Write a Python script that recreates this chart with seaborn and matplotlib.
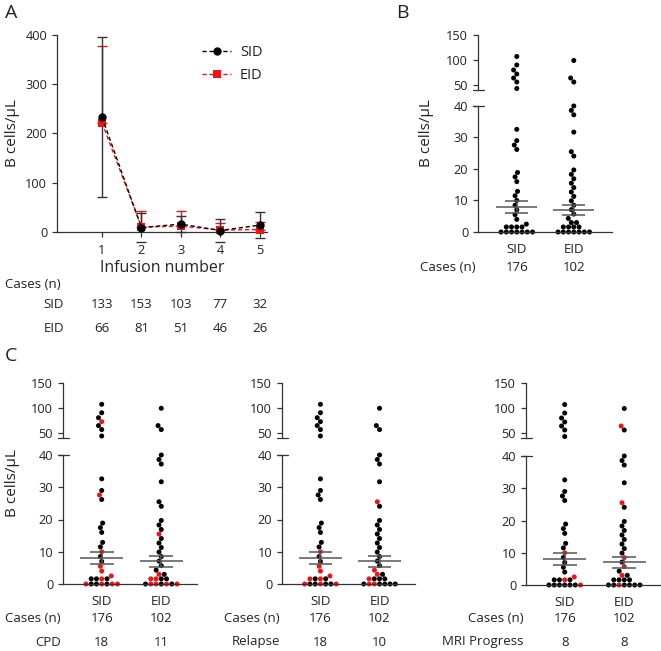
import warnings
warnings.filterwarnings("ignore")
import numpy as np
import pandas as pd
import matplotlib
matplotlib.use("Agg")
import matplotlib.pyplot as plt
import matplotlib.transforms as mtransforms
from matplotlib.lines import Line2D
import seaborn as sns

# ---------------- Panel A data ----------------
infusion = [1, 2, 3, 4, 5]
sid_mean = [233, 9, 16, 3, 14]
sid_sd = [162, 30, 17, 23, 27]
eid_mean = [222, 10, 12, 4, 5]
eid_sd = [156, 33, 31, 15, 15]
sid_cases_a = [133, 153, 103, 77, 32]
eid_cases_a = [66, 81, 51, 46, 26]

# ---------------- Panel B / C data ----------------
groups = ["SID", "EID"]
sid_values = [107, 90, 80, 72, 64, 56, 43,
              32.6, 29.0, 27.6, 26.2, 18.9, 17.5, 16.0, 12.9, 11.5, 10.0,
              8.5, 7.0, 5.5, 4.0, 2.5,
              1.6, 1.6, 1.6, 1.6,
              0, 0, 0, 0, 0, 0, 0]
eid_values = [99, 64, 56,
              40.0, 38.6, 37.2, 31.7, 25.5, 24.1, 19.7, 18.3, 16.9, 15.5, 14.1,
              12.7, 11.3, 9.9, 8.5, 7.1, 5.7, 4.3, 3.0, 3.0,
              1.6, 1.6, 1.6, 1.6,
              0, 0, 0, 0, 0, 0, 0]
group_cases = [176, 102]
group_mean = [8.0, 7.0]
group_sem = [1.85, 1.6]

cpd_counts = [18, 11]
relapse_counts = [18, 10]
mri_counts = [8, 8]

cpd_red_sid = [72, 27.6, 10.0, 5.5, 4.0, 2.5, 1.6, 0, 0, 0, 0]
cpd_red_eid = [15.5, 3.0, 1.6, 1.6, 0, 0, 0, 0]
relapse_red_sid = [10.0, 5.5, 4.0, 2.5, 1.6, 1.6, 0, 0, 0]
relapse_red_eid = [25.5, 4.3, 3.0, 1.6, 0, 0]
mri_red_sid = [10.0, 2.5, 1.6, 0]
mri_red_eid = [64, 25.5, 8.5, 5.7, 3.0, 0]

RED = "#f01414"
DARK = "#333333"
TXT = "#222222"
W, H = 661, 651

sns.set_style("ticks")
plt.rcParams["font.family"] = ["Open Sans", "DejaVu Sans"]
plt.rcParams["text.color"] = TXT
plt.rcParams["axes.edgecolor"] = DARK
plt.rcParams["xtick.color"] = DARK
plt.rcParams["ytick.color"] = DARK
plt.rcParams["xtick.labelcolor"] = TXT
plt.rcParams["ytick.labelcolor"] = TXT

TICK = 9.2
LAB = 11
ROW = 9.5

fig = plt.figure(figsize=(W / 100, H / 100), dpi=100)


def fpos(l, t, r, b):
    return [l / W, 1 - b / H, (r - l) / W, (b - t) / H]


def fy(py):
    return 1 - py / H


def style_axis(ax):
    ax.tick_params(axis="both", length=3.6, width=0.9, labelsize=TICK)
    for s in ax.spines.values():
        s.set_linewidth(0.9)


# ---------------- Panel A ----------------
axA = fig.add_axes(fpos(57, 35, 267, 232))
dfA = pd.DataFrame({
    "Infusion": infusion * 2,
    "cells": sid_mean + eid_mean,
    "series": ["SID"] * 5 + ["EID"] * 5,
})
axA.errorbar(infusion, eid_mean, yerr=[[0] * len(eid_sd), eid_sd], fmt="none",
             ecolor=RED, elinewidth=1.0, capsize=3.6, capthick=1.0, zorder=2)
axA.errorbar(infusion, sid_mean, yerr=sid_sd, fmt="none", ecolor=DARK,
             elinewidth=1.0, capsize=3.6, capthick=1.0, zorder=2)
sns.lineplot(data=dfA, x="Infusion", y="cells", hue="series", style="series",
             hue_order=["EID", "SID"], style_order=["EID", "SID"],
             palette={"SID": "black", "EID": RED},
             markers={"SID": "o", "EID": "s"},
             dashes={"SID": (3, 2), "EID": (3, 2)},
             markersize=6, markeredgewidth=0, linewidth=1.0,
             legend=False, ax=axA, zorder=3)
for ln in axA.lines:
    ln.set_clip_on(False)
axA.set_xlim(-0.14, 5.18)
axA.set_ylim(0, 400)
axA.set_xticks(infusion)
axA.set_yticks([0, 100, 200, 300, 400])
sns.despine(ax=axA)
style_axis(axA)
axA.tick_params(axis="x", pad=5)
axA.set_xlabel("Infusion number", fontsize=11.5, labelpad=2)
axA.set_ylabel("")
h_sid = Line2D([], [], color="black", ls=(0, (3, 2)), lw=1.0, marker="o",
               markersize=6, markeredgewidth=0)
h_eid = Line2D([], [], color=RED, ls=(0, (3, 2)), lw=1.0, marker="s",
               markersize=6, markeredgewidth=0)
axA.legend([h_sid, h_eid], ["SID", "EID"], loc="upper left",
           bbox_to_anchor=(189 / W, fy(32)), bbox_transform=fig.transFigure,
           frameon=False, fontsize=10.5, handlelength=2.0, handletextpad=0.6,
           labelspacing=0.55)
fig.text(12 / W, fy(133), "B cells/µL", rotation=90, ha="center", va="center",
         fontsize=LAB)

trA = mtransforms.blended_transform_factory(axA.transData, fig.transFigure)
fig.text(5 / W, fy(285), "Cases (n)", ha="left", va="center", fontsize=ROW)
fig.text(64 / W, fy(305), "SID", ha="right", va="center", fontsize=ROW)
fig.text(64 / W, fy(328), "EID", ha="right", va="center", fontsize=ROW)
for xi, a, b in zip(infusion, sid_cases_a, eid_cases_a):
    axA.text(xi, fy(305), str(a), transform=trA, ha="center", va="center", fontsize=ROW)
    axA.text(xi, fy(328), str(b), transform=trA, ha="center", va="center", fontsize=ROW)


# ---------------- helpers for scatter panels ----------------
def make_df(red_sid, red_eid):
    rows = []
    for g, vals, reds in (("SID", sid_values, red_sid), ("EID", eid_values, red_eid)):
        marks = ["base"] * len(vals)
        for r in reds:
            for i, v in enumerate(vals):
                if v == r and marks[i] == "base":
                    marks[i] = "hl"
                    break
        for v, m in zip(vals, marks):
            rows.append((g, v, m))
    return pd.DataFrame(rows, columns=["group", "value", "mark"])


def break_mark(ax, y, ax_w):
    d = 5.5 / ax_w
    ax.plot([-d, d], [y, y], transform=ax.transAxes, color=DARK, lw=0.9,
            clip_on=False)


def scatter_panel(lo_box, hi_box, xlim, df, row_labels, row_values):
    ax_lo = fig.add_axes(fpos(*lo_box))
    ax_hi = fig.add_axes(fpos(*hi_box))
    lo = df[df["value"] <= 40]
    hi = df[df["value"] > 40]
    for ax, d in ((ax_lo, lo), (ax_hi, hi)):
        sns.swarmplot(data=d, x="group", y="value", hue="mark", order=groups,
                      hue_order=["base", "hl"],
                      palette={"base": "black", "hl": RED},
                      size=3.6, linewidth=0, legend=False, ax=ax, zorder=2)
        for c in ax.collections:
            c.set_clip_on(False)
        ax.set_xlim(*xlim)
        ax.set_xlabel("")
        ax.set_ylabel("")
        style_axis(ax)
    ax_lo.set_ylim(0, 40)
    ax_lo.set_yticks([0, 10, 20, 30, 40])
    ax_hi.set_ylim(40, 150)
    ax_hi.set_yticks([50, 100, 150])
    sns.despine(ax=ax_lo)
    sns.despine(ax=ax_hi, bottom=True)
    ax_hi.set_xticks([])
    ax_lo.set_xticks([0, 1])
    ax_lo.set_xticklabels(groups)
    ax_lo.tick_params(axis="x", length=0, pad=8, labelsize=TICK + 0.3)
    ax_w = lo_box[2] - lo_box[0]
    break_mark(ax_hi, 0, ax_w)
    break_mark(ax_lo, 1, ax_w)
    # mean +/- SEM
    for xi, m, s in zip([0, 1], group_mean, group_sem):
        ax_lo.hlines(m, xi - 0.36, xi + 0.36, color="#555555", lw=1.1, zorder=4)
        ax_lo.hlines([m - s, m + s], xi - 0.2, xi + 0.2, color="#555555", lw=1.1, zorder=4)
        ax_lo.vlines(xi, m - s, m + s, color="#555555", lw=1.1, zorder=4)
    tr = mtransforms.blended_transform_factory(ax_lo.transData, fig.transFigure)
    right = (lo_box[0] - 2) / W
    for (label, ypx), vals in zip(row_labels, row_values):
        fig.text(right, fy(ypx), label, ha="right", va="center", fontsize=ROW)
        for xi, v in zip([0, 1], vals):
            ax_lo.text(xi, fy(ypx), str(v), transform=tr, ha="center",
                       va="center", fontsize=ROW)
    return ax_lo, ax_hi


# ---------------- Panel B ----------------
dfB = make_df([], [])
scatter_panel((478, 106, 612, 232), (478, 35, 612, 90), (-0.68, 1.67), dfB,
              [("Cases (n)", 268)], [group_cases])
fig.text(427 / W, fy(133), "B cells/µL", rotation=90, ha="center", va="center",
         fontsize=LAB)

# ---------------- Panel C ----------------
c_specs = [
    ((63, 455, 197, 584), (63, 383, 197, 437.5), "CPD", cpd_counts,
     cpd_red_sid, cpd_red_eid),
    ((282, 455, 415, 584), (282, 383, 415, 437.5), "Relapse", relapse_counts,
     relapse_red_sid, relapse_red_eid),
    ((526, 456, 660, 585), (526, 383, 660, 438), "MRI Progress", mri_counts,
     mri_red_sid, mri_red_eid),
]
for lo_box, hi_box, lab, counts, rs, re in c_specs:
    scatter_panel(lo_box, hi_box, (-0.65, 1.6), make_df(rs, re),
                  [("Cases (n)", 619), (lab, 642)], [group_cases, counts])
fig.text(12 / W, fy(483), "B cells/µL", rotation=90, ha="center", va="center",
         fontsize=LAB)

# panel letters
fig.text(5 / W, fy(13), "A", fontsize=14, ha="left", va="center")
fig.text(396 / W, fy(13), "B", fontsize=14, ha="left", va="center")
fig.text(5 / W, fy(356), "C", fontsize=14, ha="left", va="center")

fig.savefig("out.png", dpi=100)
